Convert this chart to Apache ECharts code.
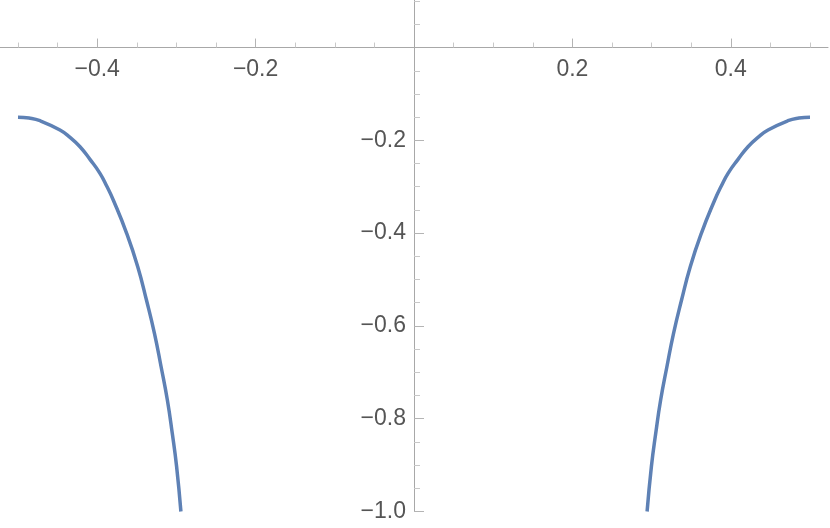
<!DOCTYPE html>
<html>
<head>
<meta charset="utf-8">
<script src="https://cdn.jsdelivr.net/npm/echarts@6/dist/echarts.min.js"></script>
<style>
html,body{margin:0;padding:0;background:#fff;}
#chart{width:830px;height:528px;}
</style>
</head>
<body>
<div id="chart"></div>
<script>
// Values (the curve is mirror-symmetric about x = 0)
var leftX  = [-0.5, -0.486, -0.4722, -0.4470, -0.4343, -0.4217, -0.4091, -0.3965, -0.3880, -0.3797, -0.3628, -0.3488, -0.3378, -0.3277, -0.3193, -0.3114, -0.3052, -0.2997, -0.2943];
var leftY  = [-0.150, -0.152, -0.1577, -0.1777, -0.1936, -0.2137, -0.2410, -0.2711, -0.2985, -0.3286, -0.4004, -0.4724, -0.5442, -0.6160, -0.6880, -0.7598, -0.8315, -0.9035, -1.0];
var rightX = [0.2943, 0.2997, 0.3052, 0.3114, 0.3193, 0.3277, 0.3378, 0.3488, 0.3628, 0.3797, 0.3880, 0.3965, 0.4091, 0.4217, 0.4343, 0.4470, 0.4722, 0.486, 0.5];
var rightY = [-1.0, -0.9035, -0.8315, -0.7598, -0.6880, -0.6160, -0.5442, -0.4724, -0.4004, -0.3286, -0.2985, -0.2711, -0.2410, -0.2137, -0.1936, -0.1777, -0.1577, -0.152, -0.150];

var xMajorTicks = [-0.4, -0.2, 0.2, 0.4];
var xMinorTicks = [-0.5, -0.45, -0.35, -0.3, -0.25, -0.15, -0.1, -0.05, 0.05, 0.1, 0.15, 0.25, 0.3, 0.35, 0.45, 0.5];
var yMajorTicks = [-0.2, -0.4, -0.6, -0.8, -1.0];
var yMinorTicks = [0.1, 0.05, -0.05, -0.1, -0.15, -0.25, -0.3, -0.35, -0.45, -0.5, -0.55, -0.65, -0.7, -0.75, -0.85, -0.9, -0.95];

var xRange = [-0.5227, 0.5227];
var yRange = [-1, 0.1025];

function pairs(xs, ys){ return xs.map(function(x,i){ return [x, ys[i]]; }); }
function fmt(v){ var s = Number(v).toFixed(1); return s.replace('-', '\u2212'); }

var W = 830, H = 528;
var gL = 0, gR = 2, gT = 0, gB = 16.5;
var gW = W - gL - gR, gH = H - gT - gB;
// pixel position of the zero lines inside the grid (for placing the crossing axes)
var zeroX = (0 - xRange[0]) / (xRange[1] - xRange[0]) * gW;       // from grid left
var zeroY = (yRange[1] - 0) / (yRange[1] - yRange[0]) * gH;       // from grid top

var labelColor = '#555555';
var axisColor = '#a8a8a8';
var majorColor = '#b4b4b4';
var minorColor = '#c8c8c8';
var fontFam = '"Liberation Sans", Arial, sans-serif';

var chart = echarts.init(document.getElementById('chart'), null, {renderer:'canvas'});
chart.setOption({
  animation: false,
  backgroundColor: '#ffffff',
  grid: {left: gL, right: gR, top: gT, bottom: gB, containLabel: false, outerBoundsMode: 'none'},
  xAxis: [{
    type: 'value', position: 'bottom', min: xRange[0], max: xRange[1], offset: -(gH - zeroY),
    axisLine: {show: true, onZero: false, lineStyle: {color: axisColor, width: 1}},
    axisTick: {show: true, inside: true, length: 9, customValues: xMajorTicks, lineStyle: {color: majorColor, width: 1}},
    axisLabel: {show: true, customValues: xMajorTicks, formatter: fmt, margin: 11, color: labelColor, fontSize: 23, fontFamily: fontFam, hideOverlap: false},
    splitLine: {show: false}
  }, {
    type: 'value', position: 'top', min: xRange[0], max: xRange[1], offset: -zeroY,
    axisLine: {show: false, onZero: false},
    axisTick: {show: true, inside: false, length: 5, customValues: xMinorTicks, lineStyle: {color: minorColor, width: 1}},
    axisLabel: {show: false},
    splitLine: {show: false}
  }],
  yAxis: [{
    type: 'value', position: 'left', min: yRange[0], max: yRange[1], offset: -zeroX,
    axisLine: {show: true, onZero: false, lineStyle: {color: axisColor, width: 1}},
    axisTick: {show: true, inside: true, length: 10, customValues: yMajorTicks, lineStyle: {color: majorColor, width: 1}},
    axisLabel: {show: true, customValues: yMajorTicks, formatter: fmt, margin: 8, color: labelColor, fontSize: 23, fontFamily: fontFam, hideOverlap: false},
    splitLine: {show: false}
  }, {
    type: 'value', position: 'right', min: yRange[0], max: yRange[1], offset: -(gW - zeroX),
    axisLine: {show: false, onZero: false},
    axisTick: {show: true, inside: false, length: 6, customValues: yMinorTicks, lineStyle: {color: minorColor, width: 1}},
    axisLabel: {show: false},
    splitLine: {show: false}
  }],
  series: [{
    type: 'line', xAxisIndex: 0, yAxisIndex: 0,
    data: pairs(leftX, leftY), showSymbol: false, smooth: 0.5, clip: true,
    lineStyle: {color: '#5E81B5', width: 3.5}
  }, {
    type: 'line', xAxisIndex: 0, yAxisIndex: 0,
    data: pairs(rightX, rightY), showSymbol: false, smooth: 0.5, clip: true,
    lineStyle: {color: '#5E81B5', width: 3.5}
  }]
});
</script>
</body>
</html>
